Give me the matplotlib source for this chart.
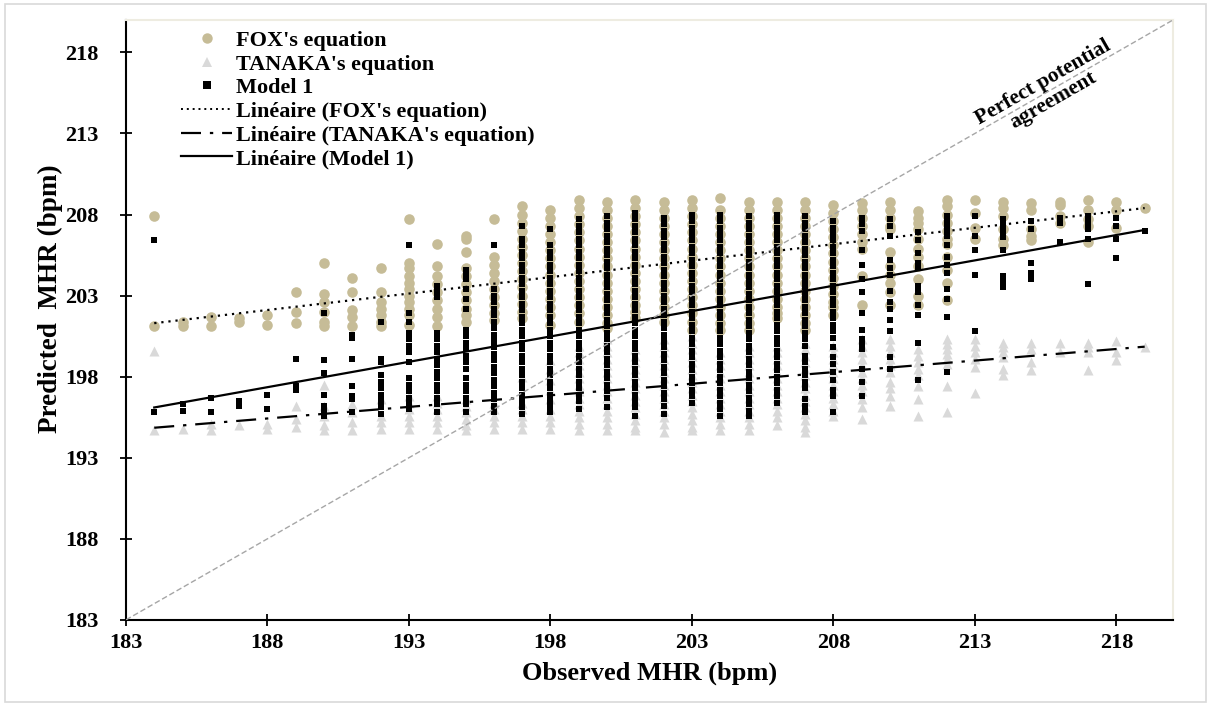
import matplotlib.pyplot as plt
from matplotlib.patches import Rectangle
from matplotlib.lines import Line2D

plt.rcParams['font.family'] = ['Liberation Serif', 'DejaVu Serif']
plt.rcParams['font.weight'] = 'bold'

# observed MHR columns (bpm)
observed = [184, 185, 186, 187, 188, 189, 190, 191, 192, 193, 194, 195,
            196, 197, 198, 199, 200, 201, 202, 203, 204, 205, 206, 207,
            208, 209, 210, 211, 212, 213, 214, 215, 216, 217, 218, 219]

# predicted values, one list per observed column
fox_y = [
    [207.9, 201.1],
    [201.4, 201.1],
    [201.7, 201.1],
    [201.6, 201.4],
    [201.8, 201.2],
    [203.2, 202.0, 201.3],
    [205.0, 203.1, 202.6, 202.0, 201.4, 201.1],
    [204.1, 203.2, 202.1, 201.7, 201.1],
    [204.7, 203.2, 202.6, 202.2, 201.8, 201.4, 201.1],
    [207.7, 205.0, 204.7, 204.2, 203.8, 203.4, 203.0, 202.6, 202.2, 201.8, 201.2],
    [206.2, 204.8, 204.2, 203.7, 203.2, 202.7, 202.2, 201.7, 201.1],
    [206.7, 206.5, 205.7, 204.7, 204.2, 203.7, 203.2, 202.7, 202.2, 201.8, 201.4],
    [207.7, 205.4, 204.9, 204.4, 203.9, 203.4, 202.9, 202.4, 201.9, 201.5],
    [208.5, 208.0, 207.5, 207.0, 206.5, 206.0, 205.5, 205.0, 204.5, 204.0, 203.5, 203.0, 202.5, 202.0, 201.6],
    [208.3, 207.8, 207.3, 206.8, 206.3, 205.8, 205.3, 204.8, 204.3, 203.8, 203.3, 202.8, 202.3, 201.8, 201.2],
    [208.9, 208.4, 207.9, 207.4, 206.9, 206.4, 205.9, 205.4, 204.9, 204.4, 203.9, 203.4, 202.9, 202.4, 201.9, 201.4],
    [208.8, 208.3, 207.8, 207.3, 206.8, 206.3, 205.8, 205.3, 204.8, 204.3, 203.8, 203.3, 202.8, 202.3, 201.8, 201.3, 201.0],
    [208.9, 208.4, 207.9, 207.4, 206.9, 206.4, 205.9, 205.4, 204.9, 204.4, 203.9, 203.4, 202.9, 202.4, 202.0, 201.6],
    [208.8, 208.3, 207.8, 207.3, 206.8, 206.3, 205.8, 205.3, 204.8, 204.3, 203.8, 203.3, 202.8, 202.3, 201.8, 201.4],
    [208.9, 208.4, 207.9, 207.4, 206.9, 206.4, 205.9, 205.4, 204.9, 204.4, 203.9, 203.4, 202.9, 202.4, 201.9, 201.4, 200.9],
    [209.0, 208.3, 207.8, 207.3, 206.8, 206.3, 205.8, 205.3, 204.8, 204.3, 203.8, 203.3, 202.8, 202.3, 201.8, 201.3, 200.9],
    [208.8, 208.3, 207.8, 207.3, 206.8, 206.3, 205.8, 205.3, 204.8, 204.3, 203.8, 203.3, 202.8, 202.3, 201.8, 201.3, 200.9],
    [208.8, 208.3, 207.8, 207.3, 206.8, 206.3, 205.8, 205.3, 204.8, 204.3, 203.8, 203.3, 202.8, 202.3, 201.9, 201.6],
    [208.8, 208.3, 207.8, 207.3, 206.8, 206.3, 205.8, 205.3, 204.8, 204.3, 203.8, 203.3, 202.8, 202.3, 201.8, 201.3, 200.9],
    [208.6, 208.1, 207.6, 207.1, 206.6, 206.1, 205.6, 205.1, 204.6, 204.1, 203.6, 203.1, 202.6, 202.3, 201.8],
    [208.7, 208.3, 207.8, 207.3, 206.8, 206.3, 205.9, 204.2, 202.4],
    [208.8, 208.3, 207.8, 207.3, 207.1, 205.7, 204.8, 204.3, 203.8, 203.2, 202.4],
    [208.2, 207.8, 207.5, 207.1, 206.5, 205.9, 205.4, 204.8, 204.0, 203.0, 202.4],
    [208.9, 208.5, 208.0, 207.5, 207.0, 206.5, 206.2, 205.4, 204.6, 203.8, 202.7],
    [208.9, 208.1, 207.2, 206.5],
    [208.8, 208.4, 207.9, 207.1, 206.5, 206.1],
    [208.7, 208.3, 207.1, 206.7, 206.4],
    [208.8, 208.6, 207.9, 207.5],
    [208.9, 208.3, 207.7, 207.3, 206.3],
    [208.8, 208.3, 207.2],
    [208.4],
]

tanaka_y = [
    [199.6, 194.7],
    [194.8],
    [195.1, 194.7],
    [195.0],
    [195.1, 194.8],
    [196.2, 195.4, 194.9],
    [197.5, 196.2, 195.6, 195.0, 194.7],
    [196.3, 195.8, 195.2, 194.7],
    [196.6, 195.6, 195.2, 194.8],
    [196.8, 196.4, 196.0, 195.6, 195.2, 194.8],
    [196.8, 196.4, 196.0, 195.6, 195.2, 194.8],
    [196.6, 196.2, 195.8, 195.4, 195.0, 194.7],
    [196.4, 196.0, 195.6, 195.2, 194.8],
    [198.0, 196.4, 196.0, 195.6, 195.2, 194.8],
    [199.0, 198.5, 197.8, 197.2, 196.6, 196.0, 195.6, 195.2, 194.8],
    [199.9, 199.5, 199.1, 198.7, 198.3, 197.9, 197.5, 197.1, 196.7, 196.3, 195.9, 195.5, 195.1, 194.7],
    [200.3, 199.9, 199.5, 199.1, 198.7, 198.3, 197.9, 197.5, 197.1, 196.7, 196.3, 195.9, 195.5, 195.1, 194.7],
    [199.7, 199.3, 198.9, 198.5, 198.1, 197.7, 197.3, 196.9, 196.5, 196.1, 195.7, 195.3, 194.9, 194.7],
    [200.3, 199.9, 199.5, 199.1, 198.7, 198.3, 197.9, 197.5, 197.1, 196.7, 196.3, 195.9, 195.5, 195.1, 194.6],
    [200.5, 200.1, 199.7, 199.3, 198.9, 198.5, 198.1, 197.7, 197.3, 196.9, 196.5, 196.1, 195.7, 195.3, 194.9, 194.7],
    [199.5, 199.1, 198.7, 198.3, 197.9, 197.5, 197.1, 196.7, 196.3, 195.9, 195.5, 195.1, 194.7],
    [199.9, 199.5, 199.1, 198.7, 198.3, 197.9, 197.5, 197.1, 196.7, 196.3, 195.9, 195.5, 195.1, 194.7],
    [199.9, 199.5, 199.1, 198.7, 198.3, 197.9, 197.5, 197.1, 196.7, 196.3, 195.9, 195.5, 195.0],
    [200.1, 199.7, 199.3, 198.9, 198.5, 198.1, 197.7, 197.3, 196.9, 196.5, 196.1, 195.7, 195.3, 194.9, 194.6],
    [199.9, 199.5, 199.1, 198.7, 198.3, 197.9, 197.5, 197.1, 196.7, 196.3, 195.9, 195.6],
    [200.3, 199.9, 199.5, 199.1, 198.7, 198.3, 197.9, 197.5, 197.1, 196.6, 196.1, 195.4],
    [200.3, 199.9, 199.5, 199.1, 198.7, 198.3, 197.7, 197.3, 196.8, 196.2],
    [199.7, 199.3, 198.9, 198.5, 198.1, 197.4, 196.6, 195.6],
    [200.3, 200.0, 199.7, 199.4, 199.1, 198.8, 197.4, 195.8],
    [200.3, 199.9, 199.5, 199.1, 198.6, 197.0],
    [200.1, 199.8, 199.5, 199.2, 198.5, 198.1],
    [200.1, 199.7, 198.9, 198.4],
    [200.1, 199.5],
    [200.1, 199.8, 199.5, 198.4],
    [200.2, 199.5, 199.0],
    [199.8],
]

model1_y = [
    [206.4, 195.8],
    [196.3, 195.9],
    [196.7, 195.8],
    [196.5, 196.2],
    [196.9, 196.0],
    [199.1, 197.4, 197.2],
    [201.9, 199.0, 198.2, 196.9, 196.2, 195.9, 195.6],
    [200.6, 200.4, 199.1, 197.4, 196.8, 196.6, 195.8],
    [201.4, 199.1, 198.9, 198.1, 197.7, 197.3, 196.9, 196.5, 196.1, 195.7],
    [206.1, 201.9, 201.4, 200.7, 200.3, 199.9, 199.5, 198.9, 197.9, 197.5, 197.1, 196.7, 196.3, 196.0],
    [203.6, 203.2, 202.9, 200.7, 200.3, 199.9, 199.5, 199.1, 198.7, 198.3, 197.9, 197.5, 197.1, 196.7, 196.3, 195.8],
    [204.6, 204.4, 204.0, 203.4, 202.8, 202.2, 200.9, 200.5, 200.1, 199.7, 199.3, 198.9, 198.5, 197.9, 197.5, 197.1, 196.7, 196.3, 195.8],
    [206.1, 203.4, 203.0, 202.6, 202.2, 201.8, 201.4, 201.0, 200.6, 200.2, 199.8, 199.4, 199.0, 198.6, 198.2, 197.8, 197.4, 197.0, 196.6, 196.2, 195.8],
    [207.3, 206.5, 206.1, 205.7, 205.3, 204.9, 204.5, 204.1, 203.7, 203.3, 202.9, 202.5, 202.1, 201.7, 201.3, 200.9, 200.5, 200.1, 199.7, 199.3, 198.9, 198.5, 198.1, 197.7, 197.3, 196.9, 196.5, 196.1, 195.7],
    [207.1, 206.1, 205.7, 205.3, 204.9, 204.5, 204.1, 203.7, 203.3, 202.9, 202.5, 202.1, 201.7, 201.3, 200.9, 200.5, 200.1, 199.7, 199.3, 198.9, 198.5, 198.1, 197.7, 197.3, 196.9, 196.5, 196.1, 195.8],
    [207.7, 207.3, 206.9, 206.5, 206.1, 205.7, 205.3, 204.9, 204.5, 204.1, 203.7, 203.3, 202.9, 202.5, 202.1, 201.7, 201.3, 200.9, 200.5, 200.1, 199.7, 199.3, 198.9, 198.5, 198.1, 197.7, 197.3, 196.9, 196.5, 196.0],
    [207.9, 207.5, 207.1, 206.7, 206.3, 205.9, 205.5, 205.1, 204.7, 204.3, 203.9, 203.5, 203.1, 202.7, 202.3, 201.9, 201.5, 201.1, 200.7, 200.3, 199.9, 199.5, 199.1, 198.7, 198.3, 197.9, 197.5, 197.1, 196.7, 196.1],
    [208.1, 207.7, 207.3, 206.9, 206.5, 206.1, 205.7, 205.3, 204.9, 204.5, 204.1, 203.7, 203.3, 202.9, 202.5, 202.1, 201.7, 201.3, 200.9, 200.5, 200.1, 199.7, 199.3, 198.9, 198.5, 198.1, 197.7, 197.3, 196.9, 196.5, 196.1, 195.6],
    [207.8, 207.4, 207.0, 206.6, 206.2, 205.8, 205.4, 205.0, 204.6, 204.2, 203.8, 203.4, 203.0, 202.6, 202.2, 201.8, 201.4, 201.0, 200.6, 200.2, 199.8, 199.4, 199.0, 198.6, 198.2, 197.8, 197.4, 197.0, 196.6, 196.2, 195.7],
    [208.0, 207.6, 207.2, 206.8, 206.4, 206.0, 205.6, 205.2, 204.8, 204.4, 204.0, 203.6, 203.2, 202.8, 202.4, 202.0, 201.6, 201.2, 200.8, 200.4, 200.0, 199.6, 199.2, 198.8, 198.4, 198.0, 197.6, 197.2, 196.8, 196.4],
    [208.0, 207.6, 207.2, 206.8, 206.4, 206.0, 205.6, 205.2, 204.8, 204.4, 204.0, 203.6, 203.2, 202.8, 202.4, 202.0, 201.6, 201.2, 200.8, 200.4, 200.0, 199.6, 199.2, 198.8, 198.4, 198.0, 197.6, 197.2, 196.8, 196.4, 196.0, 195.6],
    [207.9, 207.5, 207.1, 206.7, 206.3, 205.9, 205.5, 205.1, 204.7, 204.3, 203.9, 203.5, 203.1, 202.7, 202.3, 201.9, 201.5, 201.1, 200.7, 200.3, 199.9, 199.5, 199.1, 198.7, 198.3, 197.9, 197.5, 197.1, 196.7, 196.3, 195.9, 195.6],
    [208.0, 207.6, 207.2, 206.8, 206.4, 206.0, 205.6, 205.2, 204.8, 204.4, 204.0, 203.6, 203.2, 202.8, 202.4, 202.0, 201.6, 201.2, 200.8, 200.4, 200.0, 199.6, 199.2, 198.8, 198.4, 198.0, 197.6, 197.2, 196.8, 196.4],
    [207.9, 207.5, 207.1, 206.7, 206.3, 205.9, 205.5, 205.1, 204.7, 204.3, 203.9, 203.5, 203.1, 202.7, 202.3, 201.9, 201.5, 201.1, 200.7, 200.3, 199.9, 199.3, 198.9, 198.5, 198.1, 197.7, 197.3, 196.6, 196.2, 195.8],
    [207.6, 207.2, 206.8, 206.4, 206.0, 205.6, 205.2, 204.8, 204.4, 204.0, 203.6, 203.2, 202.8, 202.4, 202.0, 201.6, 201.2, 200.8, 200.4, 199.8, 199.2, 198.8, 198.3, 197.8, 197.2, 196.8, 195.8],
    [207.8, 207.4, 207.0, 205.8, 204.9, 204.0, 203.2, 201.9, 200.9, 200.3, 200.0, 199.7, 198.5, 197.7, 196.8],
    [207.7, 207.3, 206.7, 205.2, 204.7, 204.3, 203.3, 202.6, 202.2, 201.5, 200.8, 199.2, 198.5],
    [206.9, 206.4, 205.6, 205.0, 204.7, 203.6, 203.2, 202.4, 201.8, 200.1, 197.8],
    [207.9, 207.6, 207.3, 207.0, 206.7, 206.1, 205.4, 204.9, 204.4, 203.4, 202.8, 201.7, 198.3],
    [207.9, 206.7, 205.8, 204.3, 200.8],
    [207.7, 207.4, 207.1, 206.9, 206.6, 205.8, 204.2, 203.9, 203.5],
    [207.6, 207.1, 205.0, 204.4, 204.0],
    [207.8, 207.5, 206.3],
    [207.9, 207.6, 207.3, 207.1, 206.5, 203.7],
    [207.8, 207.3, 206.5, 205.3],
    [207.0],
]

# linear trend lines (end points)
trend_x = [184, 219]
fox_trend = [201.3, 208.4]
tanaka_trend = [194.85, 199.85]
model1_trend = [196.1, 207.05]

ticks = [183, 188, 193, 198, 203, 208, 213, 218]


def flat(cols):
    xs = [x for x, c in zip(observed, cols) for _ in c]
    ys = [v for c in cols for v in c]
    return xs, ys


fig = plt.figure(figsize=(12.11, 7.06), dpi=100)
ax = fig.add_axes([0.104, 0.122, 0.8646, 0.8497])

fx, fy = flat(fox_y)
tx, ty = flat(tanaka_y)
mx, my = flat(model1_y)
ax.scatter(fx, fy, s=58, marker='o', color='#C6BC97', linewidths=0, zorder=2)
ax.scatter(tx, ty, s=52, marker='^', color='#D9D9D9', linewidths=0, zorder=3)
ax.scatter(mx, my, s=21, marker='s', color='black', linewidths=0, zorder=4)

ax.plot(trend_x, fox_trend, color='black', lw=1.6, linestyle=(0, (1, 2.2)), zorder=5)
ax.plot(trend_x, tanaka_trend, color='black', lw=1.6, linestyle=(0, (9, 4, 1.5, 4)), zorder=5)
ax.plot(trend_x, model1_trend, color='black', lw=1.6, zorder=5)

# line of identity
ax.plot([183, 220], [183, 220], color='#A6A6A6', lw=1, linestyle=(0, (4, 2)), zorder=6)
ax.text(215.6, 215.6, 'Perfect potential\nagreement', rotation=45,
        transform_rotates_text=True, rotation_mode='anchor',
        ha='center', va='center', fontsize=15.5, fontweight='bold',
        linespacing=1.0)

ax.set_xlim(183, 220)
ax.set_ylim(183, 220)
ax.set_xticks(ticks)
ax.set_yticks(ticks)
ax.tick_params(direction='inout', length=9, width=1.3, labelsize=16)
ax.tick_params(axis='x', pad=5)
ax.tick_params(axis='y', pad=15)
for side in ['left', 'bottom']:
    ax.spines[side].set_linewidth(1.5)
for side in ['top', 'right']:
    ax.spines[side].set_color('#EEECE1')
    ax.spines[side].set_linewidth(1.5)

ax.set_xlabel('Observed MHR (bpm)', fontsize=19, fontweight='bold', labelpad=6)
ax.set_ylabel('Predicted  MHR (bpm)', fontsize=19.5, fontweight='bold')
ax.yaxis.set_label_coords(-0.06, 0.535)

handles = [
    Line2D([], [], ls='none', marker='o', ms=7.5, color='#C6BC97', mew=0),
    Line2D([], [], ls='none', marker='^', ms=7.5, color='#D9D9D9', mew=0),
    Line2D([], [], ls='none', marker='s', ms=5.5, color='black', mew=0),
    Line2D([], [], color='black', lw=1.4, linestyle=(0, (1, 2))),
    Line2D([], [], color='black', lw=1.6, linestyle=(0, (9, 4, 1.5, 4))),
    Line2D([], [], color='black', lw=1.6),
]
labels = ["FOX's equation", "TANAKA's equation", 'Model 1',
          "Linéaire (FOX's equation)", "Linéaire (TANAKA's equation)",
          'Linéaire (Model 1)']
ax.legend(handles, labels, loc='upper left', bbox_to_anchor=(0.04, 1.005),
          frameon=False, fontsize=16, handlelength=2.3, handletextpad=0.15,
          labelspacing=0.14, borderaxespad=0.2)

fig.patches.append(Rectangle((0.004, 0.006), 0.992, 0.988, transform=fig.transFigure,
                             fill=False, edgecolor='#D9D9D9', lw=1.2))

fig.savefig('out.png', dpi=100)
